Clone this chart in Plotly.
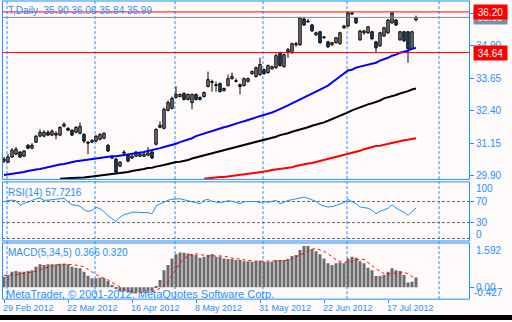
import plotly.graph_objects as go

W, H = 512, 322

# ---------------- data ----------------
opens = [30.47,30.43,30.63,30.74,30.82,30.66,31.08,30.97,31.20,31.43,
31.43,31.58,31.47,31.47,31.47,31.81,31.73,31.66,31.58,31.54,
31.50,31.20,31.20,31.24,31.31,31.35,31.08,30.66,30.55,30.28,
30.78,30.70,30.59,30.66,30.66,30.66,30.70,30.82,31.12,31.77,
31.73,32.42,32.50,32.92,32.95,33.07,32.84,32.72,33.03,32.92,
32.95,33.34,33.49,33.37,33.45,33.18,33.37,33.64,33.53,33.41,
33.37,33.53,33.83,33.72,33.79,33.98,33.87,34.02,34.06,34.63,
34.10,34.67,34.63,34.94,34.94,35.93,35.82,35.70,35.32,35.44,
35.21,35.05,34.94,35.02,34.98,35.59,35.66,36.12,35.97,35.13,
35.40,35.40,35.44,35.05,34.90,35.28,35.40,35.78,35.89,35.13,
35.44,35.44,34.79,35.90]
highs = [30.63,30.74,30.97,31.01,30.86,30.89,31.12,31.16,31.47,31.69,
31.66,31.66,31.69,31.62,31.81,31.96,31.77,31.69,31.81,31.96,
31.54,31.24,31.31,31.47,31.54,31.58,31.12,30.70,30.59,30.47,
30.89,30.74,30.70,30.86,30.78,30.82,31.01,30.86,31.73,32.00,
32.53,32.80,32.95,33.34,33.07,33.11,33.07,33.07,33.07,32.95,
33.14,33.91,33.60,33.53,33.49,33.30,33.79,33.87,33.64,33.45,
33.68,33.68,33.95,34.10,34.44,34.02,34.18,34.14,34.60,34.67,
34.60,34.82,35.02,35.05,36.01,36.01,35.93,35.74,35.44,35.47,
35.28,35.09,35.05,35.24,35.44,35.70,36.20,36.20,36.01,35.51,
35.51,35.66,35.47,35.09,35.44,35.63,35.93,36.20,35.93,35.47,
35.47,35.47,35.47,36.06]
lows = [30.40,30.40,30.59,30.70,30.59,30.63,30.93,30.93,31.16,31.39,
31.39,31.43,31.43,31.31,31.43,31.77,31.62,31.43,31.54,31.50,
31.16,30.74,31.16,31.20,31.27,31.31,30.82,30.55,30.02,30.24,
30.66,30.43,30.55,30.63,30.63,30.63,30.66,30.55,31.08,31.73,
31.69,32.38,32.46,32.88,32.92,32.80,32.80,32.46,32.80,32.80,
32.92,33.30,33.14,33.14,33.11,33.14,33.34,33.60,33.49,33.03,
33.34,33.49,33.79,33.68,33.75,33.79,33.83,33.98,34.02,34.10,
34.06,34.44,34.60,34.86,34.90,35.66,35.78,35.44,35.28,34.98,
35.17,34.82,34.90,34.98,34.94,35.55,35.63,36.08,35.74,35.09,
35.32,35.36,35.13,34.63,34.86,35.24,35.36,35.74,35.66,35.09,
35.05,34.25,34.75,35.84]
closes = [30.55,30.63,30.89,30.93,30.63,30.86,30.97,31.08,31.43,31.58,
31.58,31.47,31.62,31.54,31.77,31.89,31.66,31.47,31.77,31.81,
31.24,31.16,31.27,31.43,31.50,31.54,30.86,30.59,30.05,30.43,
30.82,30.47,30.66,30.82,30.74,30.74,30.78,30.59,31.69,31.85,
32.46,32.72,32.88,33.03,33.03,32.84,33.03,33.03,32.84,32.84,
33.11,33.60,33.53,33.41,33.14,33.26,33.64,33.72,33.56,33.34,
33.64,33.64,33.91,34.06,34.18,33.83,34.14,34.10,34.52,34.14,
34.56,34.75,34.98,34.98,35.97,35.70,35.85,35.47,35.40,35.02,
35.24,34.86,35.02,35.21,35.40,35.66,36.16,36.16,35.78,35.47,
35.47,35.63,35.17,34.82,35.40,35.59,35.89,36.16,35.70,35.44,
35.09,34.79,35.44,35.99]

ma_blue = [29.94,29.96,29.98,30.02,30.03,30.05,30.09,30.13,30.15,30.17,
30.21,30.24,30.28,30.32,30.34,30.36,30.40,30.44,30.47,30.49,
30.51,30.53,30.55,30.59,30.61,30.63,30.64,30.66,30.66,30.68,
30.70,30.72,30.74,30.78,30.80,30.82,30.86,30.89,30.93,30.97,
31.01,31.05,31.08,31.14,31.20,31.24,31.29,31.35,31.43,31.48,
31.54,31.58,31.64,31.69,31.73,31.77,31.81,31.87,31.90,31.96,
32.00,32.04,32.10,32.15,32.19,32.23,32.29,32.34,32.40,32.46,
32.53,32.61,32.69,32.76,32.84,32.92,32.99,33.07,33.14,33.22,
33.30,33.37,33.49,33.60,33.72,33.83,33.95,33.98,34.06,34.10,
34.14,34.18,34.21,34.25,34.33,34.37,34.44,34.52,34.56,34.63,
34.67,34.71,34.79,34.82]
ma_black = [None]*14 + [29.79,29.79,29.81,29.82,29.82,29.84,29.84,29.86,29.88,29.90,
29.90,29.92,29.94,29.96,29.98,30.02,30.03,30.05,30.09,30.11,
30.13,30.17,30.21,30.22,30.26,30.28,30.32,30.36,30.40,30.44,
30.45,30.47,30.51,30.57,30.61,30.66,30.70,30.74,30.78,30.82,
30.86,30.89,30.93,30.97,31.01,31.05,31.08,31.12,31.16,31.20,
31.24,31.27,31.31,31.37,31.41,31.47,31.50,31.54,31.60,31.64,
31.69,31.73,31.77,31.83,31.87,31.92,31.96,32.02,32.08,32.15,
32.23,32.29,32.34,32.42,32.48,32.53,32.61,32.65,32.69,32.74,
32.80,32.88,32.92,32.95,33.01,33.07,33.11,33.16,33.22,33.26]
ma_red = [None]*50 + [29.79,29.81,29.82,29.84,29.86,29.86,29.88,29.90,29.92,29.94,
29.96,29.98,30.02,30.03,30.05,30.07,30.09,30.13,30.15,30.17,
30.21,30.22,30.24,30.28,30.32,30.36,30.38,30.40,30.44,30.47,
30.51,30.55,30.59,30.63,30.66,30.70,30.74,30.78,30.84,30.87,
30.93,30.97,31.01,31.05,31.06,31.10,31.12,31.16,31.20,31.24,
31.27,31.29,31.31,31.35]

rsi = [69.4,71.9,72.3,71.3,62.5,66.6,68.5,71.3,75.1,76.0,
72.3,72.3,73.2,74.1,76.0,76.0,69.4,63.8,62.9,61.0,
54.4,51.2,53.1,59.1,56.3,50.7,43.2,37.5,31.9,40.4,
45.0,46.9,49.7,49.7,48.8,48.8,48.8,46.9,61.0,65.7,
68.5,72.3,74.1,75.1,75.1,73.2,71.3,69.4,68.5,65.7,
72.3,73.8,70.4,68.5,67.6,69.4,71.3,70.4,68.5,65.7,
69.4,70.0,70.0,70.0,67.6,69.4,68.5,70.4,71.9,65.7,
68.9,71.9,73.2,75.1,76.9,78.3,76.0,72.3,70.0,63.8,
61.0,59.5,60.1,62.5,64.7,67.6,73.8,70.4,65.7,59.5,
58.2,57.2,53.5,46.9,51.2,54.4,57.2,63.8,57.6,53.5,
49.7,43.7,50.7,57.72]

macd_hist = [0.40,0.47,0.59,0.62,0.59,0.59,0.62,0.65,0.78,0.87,
0.84,0.87,0.87,0.87,0.89,0.89,0.87,0.78,0.74,0.72,
0.59,0.44,0.34,0.34,0.36,0.34,0.24,0.09,-0.04,-0.16,
-0.16,-0.20,-0.23,-0.20,-0.19,-0.19,-0.16,-0.16,0.05,0.28,
0.65,0.84,1.09,1.25,1.32,1.31,1.28,1.25,1.22,1.12,
1.16,1.22,1.26,1.16,1.16,1.09,1.07,1.07,1.03,1.03,
0.99,0.99,0.97,0.99,1.01,0.97,0.97,0.97,1.03,1.03,
1.03,1.07,1.19,1.22,1.41,1.57,1.57,1.45,1.37,1.25,
1.09,0.91,0.84,0.91,0.94,0.91,1.09,1.16,1.12,0.99,
0.91,0.74,0.65,0.43,0.43,0.47,0.59,0.72,0.65,0.62,
0.47,0.18,0.21,0.366]
macd_signal = [0.45,0.46,0.47,0.48,0.50,0.53,0.56,0.58,0.60,0.66,
0.72,0.77,0.81,0.84,0.86,0.87,0.87,0.86,0.84,0.81,
0.78,0.68,0.57,0.48,0.40,0.34,0.28,0.18,0.09,0.00,
-0.08,-0.14,-0.19,-0.22,-0.20,-0.20,-0.19,-0.17,-0.12,-0.04,
0.05,0.22,0.45,0.70,0.92,1.08,1.20,1.25,1.27,1.24,
1.21,1.19,1.20,1.18,1.19,1.18,1.15,1.11,1.08,1.06,
1.04,1.02,1.00,0.99,0.99,0.99,0.98,0.98,0.99,1.00,
1.01,1.03,1.07,1.15,1.22,1.29,1.39,1.44,1.47,1.42,
1.36,1.27,1.15,1.05,0.97,0.94,0.97,0.99,1.04,1.06,
1.05,0.95,0.82,0.70,0.60,0.52,0.50,0.52,0.55,0.57,
0.58,0.50,0.40,0.320]

date_labels = ["29 Feb 2012", "22 Mar 2012", "16 Apr 2012", "8 May 2012",
               "31 May 2012", "22 Jun 2012", "17 Jul 2012"]
date_bars = [0, 16, 32, 48, 64, 80, 96]
month_start_bars = [1, 23, 43, 65, 86, 109]

price_ticks = [29.90, 31.15, 32.40, 33.65, 34.90, 36.15]
level_high, level_low, bid = 36.20, 34.64, 35.99
rsi_levels = [70, 30, 0]
title_text = "T,Daily  35.90 36.06 35.84 35.99"
rsi_text = "RSI(14) 57.7216"
macd_text = "MACD(5,34,5) 0.366 0.320"
copyright_text = "MetaTrader, \u00a9 2001-2012, MetaQuotes Software Corp."

# ---------------- styling ----------------
BG = "#FFFAFA"
AX = "#1E90FF"
FONT = "Liberation Sans"

def py(p):
    return 1 - p / H

def pxx(p):
    return p / W

idx = list(range(len(closes)))

fig = go.Figure()

# wicks
wx, wy = [], []
for i, (h, l) in enumerate(zip(highs, lows)):
    wx += [i, i, None]
    wy += [l, h, None]
fig.add_trace(go.Scatter(x=wx, y=wy, mode="lines", line=dict(color="black", width=1),
                         hoverinfo="skip", xaxis="x", yaxis="y"))
# bodies
base = [min(o, c) for o, c in zip(opens, closes)]
hgt = [max(abs(c - o), 0.008) for o, c in zip(opens, closes)]
cols = [BG if c >= o else "#2D8CEB" for o, c in zip(opens, closes)]
fig.add_trace(go.Bar(x=idx, y=hgt, base=base, width=0.62,
                     marker=dict(color=cols, line=dict(color="black", width=1)),
                     xaxis="x", yaxis="y"))
# moving averages
fig.add_trace(go.Scatter(x=idx, y=ma_red, mode="lines", line=dict(color="#FF0000", width=2), xaxis="x", yaxis="y"))
fig.add_trace(go.Scatter(x=idx, y=ma_black, mode="lines", line=dict(color="#000000", width=2), xaxis="x", yaxis="y"))
fig.add_trace(go.Scatter(x=idx, y=ma_blue, mode="lines", line=dict(color="#0000FF", width=2), xaxis="x", yaxis="y"))

# RSI
fig.add_trace(go.Scatter(x=idx, y=rsi, mode="lines", line=dict(color=AX, width=1), xaxis="x", yaxis="y2"))

# MACD
fig.add_trace(go.Bar(x=idx, y=macd_hist, width=0.75, marker=dict(color="#6B6B6B", line=dict(width=0)),
                     xaxis="x", yaxis="y3"))
fig.add_trace(go.Scatter(x=idx, y=macd_signal, mode="lines", line=dict(color="#FF0000", width=1, dash="dot"),
                         xaxis="x", yaxis="y3"))

# panel geometry (pixels)
X0, X1 = 2, 469
MAIN = (1, 180.5)
RSIP = (183, 242.5)
MACDP = (244.5, 301)

tickfont = dict(family=FONT, size=10, color=AX)

fig.update_layout(
    width=W, height=H, margin=dict(l=0, r=0, t=0, b=0),
    paper_bgcolor=BG, plot_bgcolor=BG, showlegend=False, barmode="overlay",
    xaxis=dict(domain=[pxx(X0), pxx(X1)], range=[-0.5, 116.25], anchor="y3",
               showgrid=False, zeroline=False, showline=False,
               tickmode="array", tickvals=date_bars, ticks="outside", ticklen=3,
               tickcolor=AX, showticklabels=False),
    yaxis=dict(domain=[py(MAIN[1]), py(MAIN[0])], range=[29.77, 36.62], side="right", anchor="x",
               showgrid=False, zeroline=False, showline=False,
               tickmode="array", tickvals=price_ticks, ticktext=[f"{v:.2f}" for v in price_ticks],
               ticks="outside", ticklen=4, tickcolor=AX, tickfont=tickfont),
    yaxis2=dict(domain=[py(RSIP[1]), py(RSIP[0])], range=[-4.7, 107], side="right", anchor="x",
                showgrid=False, zeroline=False, showline=False,
                tickmode="array", tickvals=[70, 30], ticktext=["70", "30"],
                ticks="outside", ticklen=4, tickcolor=AX, tickfont=tickfont),
    yaxis3=dict(domain=[py(MACDP[1]), py(MACDP[0])], range=[-0.45, 1.68], side="right", anchor="x",
                showgrid=False, zeroline=False, showline=False,
                tickmode="array", tickvals=[0], ticktext=["0.00"],
                ticks="outside", ticklen=4, tickcolor=AX, tickfont=tickfont),
)

shapes = []
# month grid lines
for b in month_start_bars:
    shapes.append(dict(type="line", xref="x", yref="paper", x0=b - 0.25, x1=b - 0.25,
                       y0=py(MACDP[1]), y1=py(MAIN[0]),
                       line=dict(color=AX, width=1, dash="3px,2px"), layer="below"))
# RSI levels
for lv in rsi_levels:
    shapes.append(dict(type="line", xref="paper", yref="y2", x0=pxx(X0), x1=pxx(X1), y0=lv, y1=lv,
                       line=dict(color="#666666", width=1, dash="3px,2px"), layer="below"))
# horizontal price lines
shapes.append(dict(type="line", xref="paper", yref="y", x0=pxx(X0), x1=pxx(X1), y0=bid, y1=bid,
                   line=dict(color="#808A94", width=1)))
for lv in (level_high, level_low):
    shapes.append(dict(type="line", xref="paper", yref="y", x0=pxx(X0), x1=pxx(X1), y0=lv, y1=lv,
                       line=dict(color="#FF0000", width=1)))
# panel frames
for top, bot in (MAIN, RSIP, MACDP):
    shapes.append(dict(type="rect", xref="paper", yref="paper", x0=pxx(X0 + 0.5), x1=pxx(X1 + 0.5),
                       y0=py(bot), y1=py(top), line=dict(color=AX, width=1)))
# bottom black band
shapes.append(dict(type="rect", xref="paper", yref="paper", x0=0, x1=1, y0=0, y1=py(317),
                   fillcolor="black", line=dict(width=0)))
fig.update_layout(shapes=shapes)

ann = []
def label(text, x, y, size=10, color=AX, xanchor="left", **kw):
    ann.append(dict(text=text, x=x, y=y, xref="paper", yref="paper", showarrow=False,
                    xanchor=xanchor, yanchor="middle", font=dict(family=FONT, size=size, color=color), **kw))

label(title_text, pxx(6), py(10.5))
label(rsi_text, pxx(6), py(193.5))
label(macd_text, pxx(6), py(254.5))
label(copyright_text, pxx(4), py(296), size=11)
label("100", pxx(474), py(190))
label("0", pxx(474), py(236))
label("1.592", pxx(474), py(252))
label("-0.427", pxx(472), py(294))

# boxed price labels
for val, bg in ((bid, "#7C8FA6"), (level_high, "#FF0000"), (level_low, "#FF0000")):
    ann.append(dict(text=f"{val:.2f}", x=pxx(473), y=val, xref="paper", yref="y", showarrow=False,
                    xanchor="left", yanchor="middle", bgcolor=bg, width=31, height=12, borderpad=1,
                    font=dict(family=FONT, size=10, color="white")))

# date labels
for b, t in zip(date_bars, date_labels):
    ann.append(dict(text=t, x=b, y=py(310), xref="x", yref="paper", showarrow=False,
                    xanchor="left", yanchor="middle", xshift=-3,
                    font=dict(family=FONT, size=9, color=AX)))

fig.update_layout(annotations=ann)
fig.write_html("out.html", config={"displayModeBar": False})
